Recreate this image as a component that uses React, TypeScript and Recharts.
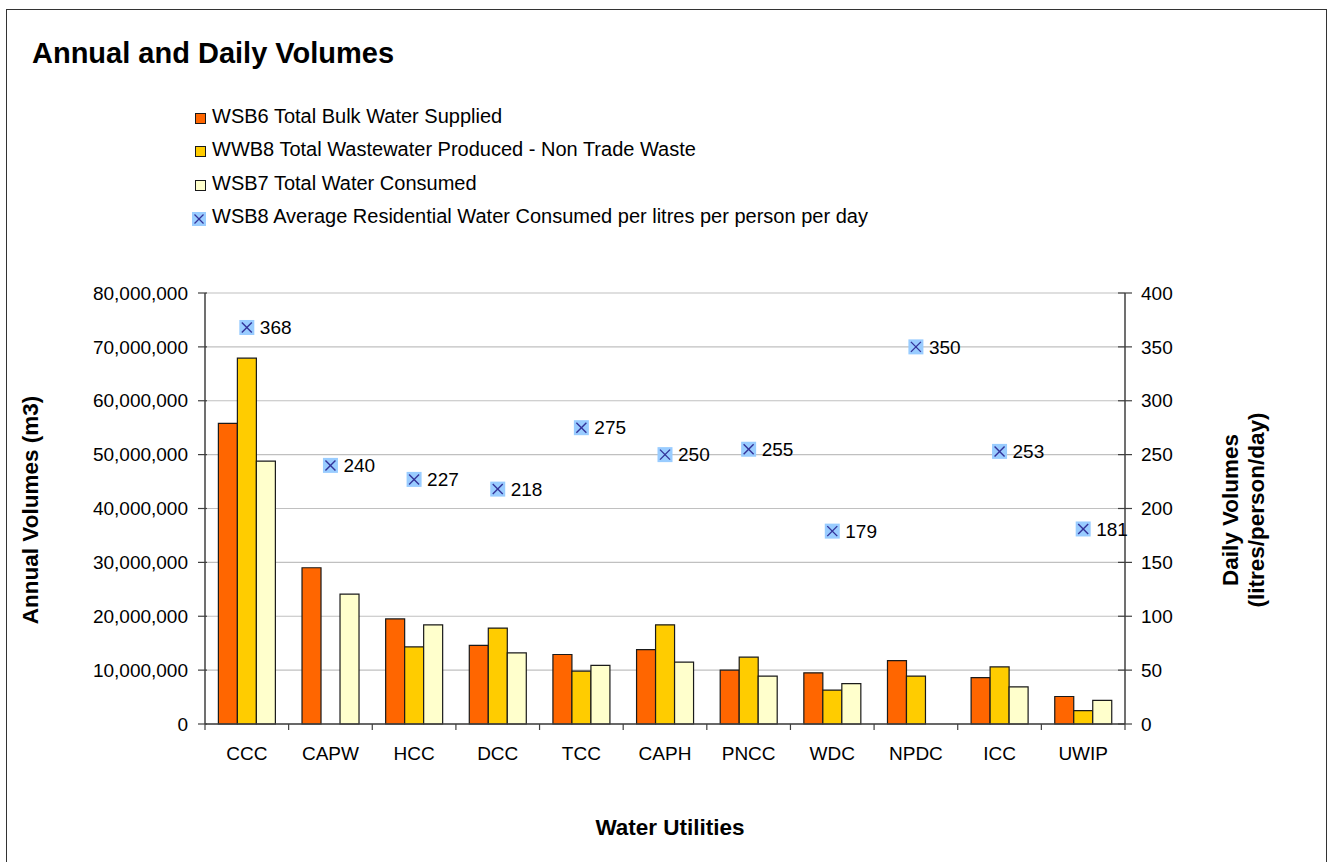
import React from 'react';
import { ComposedChart, Bar, Scatter, XAxis, YAxis, CartesianGrid, Legend } from 'recharts';

// Water utilities along the category axis
const utilities = ['CCC', 'CAPW', 'HCC', 'DCC', 'TCC', 'CAPH', 'PNCC', 'WDC', 'NPDC', 'ICC', 'UWIP'];

// Annual volumes (m3)
const bulkWaterSupplied = [55800000, 29000000, 19500000, 14600000, 12900000, 13800000, 10000000, 9500000, 11750000, 8600000, 5100000];
const wastewaterProduced = [67900000, null, 14300000, 17800000, 9800000, 18400000, 12400000, 6300000, 8900000, 10600000, 2500000];
const waterConsumed = [48800000, 24100000, 18400000, 13200000, 10900000, 11500000, 8900000, 7500000, null, 6900000, 4400000];

// Daily volumes (litres/person/day)
const residentialPerPerson = [368, 240, 227, 218, 275, 250, 255, 179, 350, 253, 181];

const annualTicks = [0, 10000000, 20000000, 30000000, 40000000, 50000000, 60000000, 70000000, 80000000];
const dailyTicks = [0, 50, 100, 150, 200, 250, 300, 350, 400];

const seriesNames = [
  'WSB6 Total Bulk Water Supplied',
  'WWB8 Total Wastewater Produced - Non Trade Waste',
  'WSB7 Total Water Consumed',
  'WSB8 Average Residential Water Consumed per litres per person per day',
];

const COLORS = {
  supplied: '#FF6600',
  wastewater: '#FFCC00',
  consumed: '#FFFFCC',
  markerFill: '#99CCFF',
  markerCross: '#333399',
  outline: '#1a1a1a',
  axis: '#404040',
  grid: '#c0c0c0',
};

const FONT = '"Liberation Sans", Arial, Helvetica, sans-serif';

const data = utilities.map((name, i) => ({
  name,
  supplied: bulkWaterSupplied[i],
  wastewater: wastewaterProduced[i],
  consumed: waterConsumed[i],
  daily: residentialPerPerson[i],
}));

const formatThousands = (v: number) => v.toLocaleString('en-US');

// Category labels centred in each band, with tick marks on the band boundaries
const CategoryTick = (props: any) => {
  const { x, y, payload, index, width, visibleTicksCount } = props;
  const half = typeof payload?.offset === 'number' && payload.offset > 0
    ? payload.offset
    : width / (visibleTicksCount || utilities.length) / 2;
  const isLast = index === (visibleTicksCount || utilities.length) - 1;
  return (
    <g>
      <line x1={x - half} x2={x - half} y1={y} y2={y + 6} stroke={COLORS.axis} strokeWidth={1.2} />
      {isLast && <line x1={x + half} x2={x + half} y1={y} y2={y + 6} stroke={COLORS.axis} strokeWidth={1.2} />}
      <text x={x} y={y + 36} textAnchor="middle" fontFamily={FONT} fontSize={19} fill="#000">
        {payload.value}
      </text>
    </g>
  );
};

const LeftTick = (props: any) => {
  const { x, y, payload } = props;
  return (
    <g>
      <line x1={x - 7} x2={x + 2} y1={y} y2={y} stroke={COLORS.axis} strokeWidth={1.2} />
      <text x={x - 17} y={y} dy="0.35em" textAnchor="end" fontFamily={FONT} fontSize={19} fill="#000">
        {formatThousands(payload.value)}
      </text>
    </g>
  );
};

const RightTick = (props: any) => {
  const { x, y, payload } = props;
  return (
    <g>
      <line x1={x - 7} x2={x + 7} y1={y} y2={y} stroke={COLORS.axis} strokeWidth={1.2} />
      <text x={x + 16} y={y} dy="0.35em" textAnchor="start" fontFamily={FONT} fontSize={19} fill="#000">
        {payload.value}
      </text>
    </g>
  );
};

// Light blue square with a cross, labelled with its value
const CrossMarker = (props: any) => {
  const { cx, cy, payload } = props;
  if (cx == null || cy == null) return null;
  const s = 7.5;
  const a = 5;
  return (
    <g>
      <rect x={cx - s} y={cy - s} width={s * 2} height={s * 2} fill={COLORS.markerFill} />
      <line x1={cx - a} y1={cy - a} x2={cx + a} y2={cy + a} stroke={COLORS.markerCross} strokeWidth={1.4} />
      <line x1={cx - a} y1={cy + a} x2={cx + a} y2={cy - a} stroke={COLORS.markerCross} strokeWidth={1.4} />
      <text x={cx + 13} y={cy} dy="0.35em" fontFamily={FONT} fontSize={19} fill="#000">
        {payload.daily}
      </text>
    </g>
  );
};

const BoxSwatch = ({ color }: { color: string }) => (
  <span
    style={{
      display: 'inline-block',
      width: 9,
      height: 9,
      background: color,
      border: `1px solid ${COLORS.outline}`,
      marginTop: 4,
    }}
  />
);

const CrossSwatch = () => (
  <svg width={14} height={14} style={{ marginTop: 4, marginLeft: -3, marginRight: 1 }}>
    <rect x={0} y={0} width={14} height={14} fill={COLORS.markerFill} />
    <line x1={2.5} y1={2.5} x2={11.5} y2={11.5} stroke={COLORS.markerCross} strokeWidth={1.3} />
    <line x1={2.5} y1={11.5} x2={11.5} y2={2.5} stroke={COLORS.markerCross} strokeWidth={1.3} />
  </svg>
);

const LegendBlock = () => {
  const rows = [
    { label: seriesNames[0], swatch: <BoxSwatch color={COLORS.supplied} /> },
    { label: seriesNames[1], swatch: <BoxSwatch color={COLORS.wastewater} /> },
    { label: seriesNames[2], swatch: <BoxSwatch color={COLORS.consumed} /> },
    { label: seriesNames[3], swatch: <CrossSwatch /> },
  ];
  return (
    <div style={{ fontFamily: FONT, fontSize: 20, color: '#000' }}>
      {rows.map((r) => (
        <div key={r.label} style={{ height: 33.3, display: 'flex', alignItems: 'center', whiteSpace: 'nowrap' }}>
          <span style={{ width: 17, display: 'flex', alignItems: 'center' }}>{r.swatch}</span>
          <span>{r.label}</span>
        </div>
      ))}
    </div>
  );
};

const CHART_W = 1319;
const CHART_H = 860;

export default function App() {
  return (
    <div style={{ position: 'fixed', left: 0, top: 0, width: 1333, height: 862, overflow: 'hidden', background: '#fff' }}>
      <div
        style={{
          position: 'absolute',
          left: 6,
          top: 9,
          width: CHART_W,
          height: CHART_H,
          border: '1px solid #333',
          background: '#fff',
        }}
      >
        <ComposedChart
          width={CHART_W}
          height={CHART_H}
          data={data}
          margin={{ top: 283, right: 141, bottom: 106, left: 108 }}
          barCategoryGap="16%"
          barGap={0}
        >
          <text x={25} y={53} fontFamily={FONT} fontSize={29} fontWeight="bold" fill="#000">
            Annual and Daily Volumes
          </text>
          <text
            x={23}
            y={500}
            transform="rotate(-90, 23, 500)"
            textAnchor="middle"
            dy="0.35em"
            fontFamily={FONT}
            fontSize={22.5}
            fontWeight="bold"
            fill="#000"
          >
            Annual Volumes (m3)
          </text>
          <text
            x={1223}
            y={500}
            transform="rotate(-90, 1223, 500)"
            textAnchor="middle"
            dy="0.35em"
            fontFamily={FONT}
            fontSize={22.5}
            fontWeight="bold"
            fill="#000"
          >
            Daily Volumes
          </text>
          <text
            x={1249}
            y={500}
            transform="rotate(-90, 1249, 500)"
            textAnchor="middle"
            dy="0.35em"
            fontFamily={FONT}
            fontSize={22.5}
            fontWeight="bold"
            fill="#000"
          >
            (litres/person/day)
          </text>
          <text x={663} y={825} textAnchor="middle" fontFamily={FONT} fontSize={22.5} fontWeight="bold" fill="#000">
            Water Utilities
          </text>

          <CartesianGrid yAxisId="left" vertical={false} stroke={COLORS.grid} strokeWidth={1.2} />
          <XAxis
            dataKey="name"
            type="category"
            height={40}
            tickLine={false}
            tickSize={0}
            tickMargin={0}
            interval={0}
            axisLine={{ stroke: COLORS.axis, strokeWidth: 1.5 }}
            tick={<CategoryTick />}
          />
          <YAxis
            yAxisId="left"
            orientation="left"
            width={90}
            domain={[0, 80000000]}
            ticks={annualTicks}
            interval={0}
            tickLine={false}
            tickSize={0}
            tickMargin={0}
            axisLine={{ stroke: COLORS.axis, strokeWidth: 1.5 }}
            tick={<LeftTick />}
          />
          <YAxis
            yAxisId="right"
            orientation="right"
            width={60}
            domain={[0, 400]}
            ticks={dailyTicks}
            interval={0}
            tickLine={false}
            tickSize={0}
            tickMargin={0}
            axisLine={{ stroke: COLORS.axis, strokeWidth: 1.5 }}
            tick={<RightTick />}
          />
          <Legend
            layout="vertical"
            align="center"
            verticalAlign="middle"
            wrapperStyle={{ top: 90, left: 188, width: 720 }}
            content={() => <LegendBlock />}
          />
          <Bar yAxisId="left" dataKey="supplied" name={seriesNames[0]} fill={COLORS.supplied} stroke={COLORS.outline} strokeWidth={1.2} isAnimationActive={false} />
          <Bar yAxisId="left" dataKey="wastewater" name={seriesNames[1]} fill={COLORS.wastewater} stroke={COLORS.outline} strokeWidth={1.2} isAnimationActive={false} />
          <Bar yAxisId="left" dataKey="consumed" name={seriesNames[2]} fill={COLORS.consumed} stroke={COLORS.outline} strokeWidth={1.2} isAnimationActive={false} />
          <Scatter
            yAxisId="right"
            dataKey="daily"
            name={seriesNames[3]}
            shape={(p: any) => <CrossMarker {...p} />}
            isAnimationActive={false}
          />
        </ComposedChart>
      </div>
    </div>
  );
}
